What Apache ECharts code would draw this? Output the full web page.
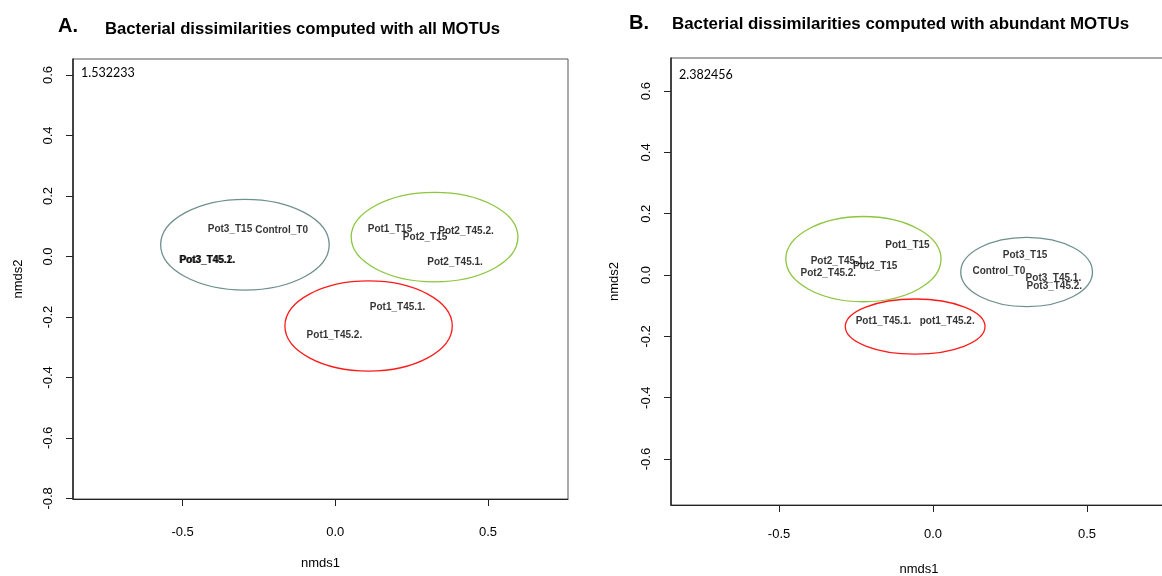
<!DOCTYPE html>
<html><head><meta charset="utf-8">
<script src="https://cdn.jsdelivr.net/npm/echarts@6/dist/echarts.min.js"></script>
<style>html,body{margin:0;padding:0;background:#fff}#c{width:1162px;height:576px}</style>
</head><body><div id="c"></div><script>
// ---- Panel A: all MOTUs ----
const namesA = ['Pot3_T15','Control_T0','Pot3_T45.1.','Pot3_T45.2.','Pot1_T15','Pot2_T15','Pot2_T45.2.','Pot2_T45.1.','Pot1_T45.1.','Pot1_T45.2.'];
const nmds1A = [-0.345,-0.176,-0.421,-0.418,0.179,0.294,0.428,0.392,0.204,-0.003];
const nmds2A = [0.091,0.088,-0.013,-0.012,0.089,0.065,0.084,-0.018,-0.169,-0.262];
const ellCxA = [-0.296,0.325,0.109];
const ellCyA = [0.039,0.064,-0.230];
const ellRxA = [0.276,0.273,0.274];
const ellRyA = [0.150,0.148,0.149];
const stressA = '1.532233';
const xTicksA = [-0.5,0.0,0.5];
const yTicksA = [-0.8,-0.6,-0.4,-0.2,0.0,0.2,0.4,0.6];

// ---- Panel B: abundant MOTUs ----
const namesB = ['Pot1_T15','Pot2_T45.1.','Pot2_T15','Pot2_T45.2.','Pot3_T15','Control_T0','Pot3_T45.1.','Pot3_T45.2.','Pot1_T45.1.','pot1_T45.2.'];
const nmds1B = [-0.083,-0.307,-0.188,-0.340,0.299,0.214,0.391,0.394,-0.161,0.046];
const nmds2B = [0.096,0.045,0.030,0.006,0.063,0.013,-0.010,-0.038,-0.152,-0.150];
const ellCxB = [-0.226,0.304,-0.058];
const ellCyB = [0.052,0.010,-0.168];
const ellRxB = [0.252,0.214,0.227];
const ellRyB = [0.139,0.113,0.090];
const stressB = '2.382456';
const xTicksB = [-0.5,0.0,0.5];
const yTicksB = [-0.6,-0.4,-0.2,0.0,0.2,0.4,0.6];

const ellColorsA = ['#6f8f8f','#8cc63e','#ff1a1a'];
const ellColorsB = ['#8cc63e','#6f8f8f','#ff1a1a'];
const FONT = '"Liberation Sans", Arial, sans-serif';

function pts(names, xs, ys){ return names.map((n,i)=>({name:n, value:[xs[i], ys[i]]})); }
function ells(cx, cy, rx, ry, cols){ return cx.map((c,i)=>({value:[c, cy[i], rx[i], ry[i]], itemStyle:{color:cols[i]}})); }
function ellipseItem(params, api){
  const c = api.coord([api.value(0), api.value(1)]);
  const s = api.size([api.value(2), api.value(3)]);
  return {type:'ellipse', shape:{cx:c[0], cy:c[1], rx:s[0], ry:s[1]},
    style:{fill:'none', stroke:api.visual('color'), lineWidth:1.3}};
}
const fmt = v => v.toFixed(1);
function xAxis(gi, min, max, ticks, margin, gap){
  return {gridIndex:gi, type:'value', min, max, name:'nmds1', nameLocation:'middle', nameGap:gap,
    nameTextStyle:{fontSize:13, color:'#000', fontFamily:FONT},
    axisLine:{show:true, onZero:false, lineStyle:{color:'#222', width:1}},
    axisTick:{show:true, length:7, customValues:ticks, lineStyle:{color:'#222'}},
    axisLabel:{customValues:ticks, formatter:fmt, margin, fontSize:13, color:'#000', fontFamily:FONT},
    splitLine:{show:false}};
}
function yAxis(gi, min, max, ticks, margin, gap){
  return {gridIndex:gi, type:'value', min, max, name:'nmds2', nameLocation:'middle', nameGap:gap,
    nameTextStyle:{fontSize:13, color:'#000', fontFamily:FONT},
    axisLine:{show:true, onZero:false, lineStyle:{color:'#222', width:1.5}},
    axisTick:{show:true, length:7, customValues:ticks, lineStyle:{color:'#222'}},
    axisLabel:{customValues:ticks, formatter:fmt, margin, rotate:90, fontSize:13, color:'#000', fontFamily:FONT},
    splitLine:{show:false}};
}
const labelStyle = {show:true, position:'inside', formatter:'{b}', fontSize:10, fontWeight:'bold', color:'#000', fontFamily:FONT};

const chart = echarts.init(document.getElementById('c'), null, {renderer:'canvas'});
chart.setOption({
  animation:false,
  backgroundColor:'#fff',
  title:[
    {text:'A.', left:53, top:11, textStyle:{fontSize:20, fontWeight:'bold', color:'#000', fontFamily:FONT}},
    {text:'Bacterial dissimilarities computed with all MOTUs', left:100, top:16, textStyle:{fontSize:16.7, fontWeight:'bold', color:'#000', fontFamily:FONT}},
    {text:'B.', left:624, top:8, textStyle:{fontSize:20, fontWeight:'bold', color:'#000', fontFamily:FONT}},
    {text:'Bacterial dissimilarities computed with abundant MOTUs', left:667, top:11, textStyle:{fontSize:16.9, fontWeight:'bold', color:'#000', fontFamily:FONT}},
    {text:stressA, left:81, top:66, padding:0, textStyle:{fontSize:12.5, fontWeight:'normal', color:'#000', fontFamily:'Lato, "Open Sans", sans-serif'}},
    {text:stressB, left:679, top:68, padding:0, textStyle:{fontSize:12.5, fontWeight:'normal', color:'#000', fontFamily:'Lato, "Open Sans", sans-serif'}}
  ],
  grid:[
    {left:73, top:59, width:495, height:440, show:true, borderColor:'#555', borderWidth:1, outerBoundsMode:'none'},
    {left:671, top:58, width:496, height:447, show:true, borderColor:'#555', borderWidth:1, outerBoundsMode:'none'}
  ],
  xAxis:[ xAxis(0,-0.859,0.762,xTicksA,27,58), xAxis(1,-0.851,0.760,xTicksB,23,58) ],
  yAxis:[ yAxis(0,-0.802,0.653,yTicksA,18,48), yAxis(1,-0.75,0.708,yTicksB,18,50) ],
  series:[
    {type:'custom', xAxisIndex:0, yAxisIndex:0, renderItem:ellipseItem, data:ells(ellCxA,ellCyA,ellRxA,ellRyA,ellColorsA), silent:true},
    {type:'scatter', xAxisIndex:0, yAxisIndex:0, symbolSize:0, data:pts(namesA,nmds1A,nmds2A), label:labelStyle, silent:true, labelLayout:{hideOverlap:false}},
    {type:'custom', xAxisIndex:1, yAxisIndex:1, renderItem:ellipseItem, data:ells(ellCxB,ellCyB,ellRxB,ellRyB,ellColorsB), silent:true},
    {type:'scatter', xAxisIndex:1, yAxisIndex:1, symbolSize:0, data:pts(namesB,nmds1B,nmds2B), label:labelStyle, silent:true, labelLayout:{hideOverlap:false}}
  ]
});
</script></body></html>
